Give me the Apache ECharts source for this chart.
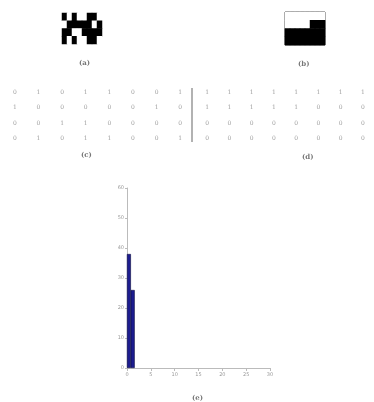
<!DOCTYPE html>
<html><head><meta charset="utf-8">
<script src="https://cdn.jsdelivr.net/npm/echarts@6/dist/echarts.min.js"></script>
<style>html,body{margin:0;padding:0;background:#fff}#c{width:374px;height:402px}</style>
</head><body><div id="c"></div>
<script>
// Binary matrices (rows top to bottom)
var matrixC = [
  [0,1,0,1,1,0,0,1],
  [1,0,0,0,0,0,1,0],
  [0,0,1,1,0,0,0,0],
  [0,1,0,1,1,0,0,1]
];
var matrixD = [
  [1,1,1,1,1,1,1,1],
  [1,1,1,1,1,0,0,0],
  [0,0,0,0,0,0,0,0],
  [0,0,0,0,0,0,0,0]
];
var colCats = ['1','2','3','4','5','6','7','8'];
var rowCats = ['1','2','3','4'];
// Histogram (e)
var histX = [0.4, 1.2];
var histY = [38, 26];
var histXTicks = [0,5,10,15,20,25,30];
var histYTicks = [0,10,20,30,40,50,60];

function toCells(m){var o=[];m.forEach(function(r,i){r.forEach(function(v,j){o.push([j,i,v]);});});return o;}

var chart = echarts.init(document.getElementById('c'));
var gray = '#8a8a8a';
var hiddenCat = function(idx, data, inv){return {type:'category',gridIndex:idx,data:data,inverse:!!inv,show:false,boundaryGap:true};};
var txt = {fontSize:7,color:'#777',fontFamily:'DejaVu Serif'};
var option = {
  animation:false,
  backgroundColor:'#fff',
  title:[
    {text:'(a)',left:74,top:55,textStyle:txt},
    {text:'(b)',left:293,top:56,textStyle:txt},
    {text:'(c)',left:76,top:147,textStyle:txt},
    {text:'(d)',left:297,top:149,textStyle:txt},
    {text:'(e)',left:187,top:390,textStyle:txt}
  ],
  grid:[
    {left:62,top:13,width:40,height:31},
    {left:285,top:12,width:40,height:33,show:true,borderColor:'#222',borderWidth:1,backgroundColor:'transparent'},
    {left:3,top:85,width:189,height:61},
    {left:196,top:85,width:189,height:61},
    {left:127,top:188,width:143,height:180}
  ],
  xAxis:[
    hiddenCat(0,colCats),hiddenCat(1,colCats),hiddenCat(2,colCats),hiddenCat(3,colCats),
    {type:'value',gridIndex:4,min:0,max:30,interval:5,
     axisLine:{show:true,lineStyle:{color:'#bbb',width:1}},
     axisTick:{show:true,inside:false,length:3,lineStyle:{color:'#bbb'}},
     axisLabel:{fontSize:5,color:'#999',margin:4,fontFamily:'DejaVu Sans'},
     splitLine:{show:false}}
  ],
  yAxis:[
    hiddenCat(0,rowCats,true),hiddenCat(1,rowCats,true),hiddenCat(2,rowCats,true),hiddenCat(3,rowCats,true),
    {type:'value',gridIndex:4,min:0,max:60,interval:10,
     axisLine:{show:true,lineStyle:{color:'#bbb',width:1}},
     axisTick:{show:true,length:2,lineStyle:{color:'#bbb'}},
     axisLabel:{fontSize:5,color:'#999',margin:3,fontFamily:'DejaVu Sans'},
     splitLine:{show:false}}
  ],
  visualMap:{show:false,type:'piecewise',seriesIndex:[0,1],
    pieces:[{value:0,color:'#000'},{value:1,color:'#fff'}]},
  series:[
    {type:'heatmap',xAxisIndex:0,yAxisIndex:0,data:toCells(matrixC),itemStyle:{borderWidth:0}},
    {type:'heatmap',xAxisIndex:1,yAxisIndex:1,data:toCells(matrixD),itemStyle:{borderWidth:0}},
    {type:'scatter',xAxisIndex:2,yAxisIndex:2,data:toCells(matrixC),symbolSize:0,
     label:{show:true,position:'inside',formatter:function(p){return p.value[2];},fontSize:6,color:'#8a8a8a',fontFamily:'DejaVu Serif'}},
    {type:'scatter',xAxisIndex:3,yAxisIndex:3,data:toCells(matrixD),symbolSize:0,
     label:{show:true,position:'inside',formatter:function(p){return p.value[2];},fontSize:6,color:'#8a8a8a',fontFamily:'DejaVu Serif'}},
    {type:'bar',xAxisIndex:4,yAxisIndex:4,barWidth:4,
     data:histX.map(function(x,i){return [x,histY[i]];}),
     itemStyle:{color:'#1c1c8f',borderColor:'#0a0a40',borderWidth:0.6}}
  ],
  graphic:[
    {type:'line',shape:{x1:192,y1:88,x2:192,y2:142},style:{stroke:'#999',lineWidth:1.5}}
  ]
};
chart.setOption(option);
</script></body></html>
